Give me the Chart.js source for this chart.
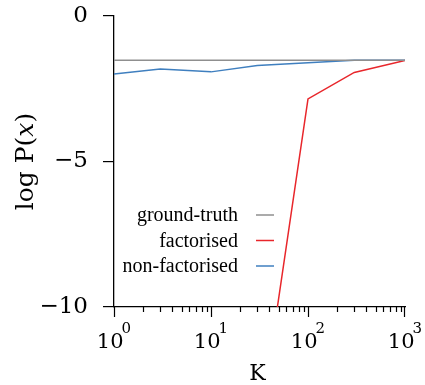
<!DOCTYPE html>
<html>
<head>
<meta charset="utf-8">
<script src="https://cdn.jsdelivr.net/npm/chart.js@4/dist/chart.umd.min.js"></script>
<style>
  body { margin: 0; background: #fff; }
  #wrap { width: 425px; height: 385px; }
</style>
</head>
<body>
<div id="wrap"><canvas id="chart" width="425" height="385"></canvas></div>
<script>
// values
const K = [1, 3, 10, 30, 100, 300, 1000];
const groundTruth = [-1.52, -1.52, -1.52, -1.52, -1.52, -1.52, -1.52];
const factorised = [-60, -45, -30, -14.7, -2.85, -1.94, -1.53];
const nonFactorised = [-1.99, -1.82, -1.92, -1.70, -1.61, -1.52, -1.52];
const seriesNames = ['ground-truth', 'factorised', 'non-factorised'];
const xTickExponents = [0, 1, 2, 3];
const yTicks = [0, -5, -10];

const tickFont = '"DejaVu Serif", serif';
const legendFont = '"Liberation Serif", serif';

function points(vals) {
    return K.map((k, i) => ({ x: k, y: vals[i] }));
}

// draws x ticks + labels, axis titles and the legend
const extras = {
    id: 'extras',
    afterDraw(chart) {
        const ctx = chart.ctx;
        const xs = chart.scales.x;
        const area = chart.chartArea;
        ctx.save();

        // x ticks (major and minor)
        ctx.strokeStyle = '#000';
        ctx.lineWidth = 1.2;
        for (let d = 0; d < 3; d++) {
            for (let m = 1; m <= 9; m++) {
                const px = Math.round(xs.getPixelForValue(m * Math.pow(10, d))) + 0.5;
                const len = m === 1 ? 10 : 5;
                ctx.beginPath();
                ctx.moveTo(px, area.bottom);
                ctx.lineTo(px, area.bottom + len);
                ctx.stroke();
            }
        }
        const last = Math.round(xs.getPixelForValue(1000)) - 0.5;
        ctx.beginPath();
        ctx.moveTo(last, area.bottom);
        ctx.lineTo(last, area.bottom + 10);
        ctx.stroke();

        // x tick labels 10^n
        ctx.fillStyle = '#000';
        ctx.textBaseline = 'alphabetic';
        ctx.textAlign = 'left';
        xTickExponents.forEach(e => {
            const px = xs.getPixelForValue(Math.pow(10, e));
            ctx.font = '21px ' + tickFont;
            const wBase = ctx.measureText('10').width - 2;
            ctx.font = '15px ' + tickFont;
            const wExp = ctx.measureText(String(e)).width;
            const x0 = px - (wBase + wExp) / 2;
            ctx.font = '21px ' + tickFont;
            ctx.fillText('10', x0, area.bottom + 41);
            ctx.font = '15px ' + tickFont;
            ctx.fillText(String(e), x0 + wBase, area.bottom + 26);
        });

        // x title
        ctx.font = '22px ' + tickFont;
        ctx.textAlign = 'center';
        ctx.fillText('K', (area.left + area.right) / 2 - 2, area.bottom + 73);

        // y title: log P(x) with italic x
        ctx.save();
        ctx.translate(33, (area.top + area.bottom) / 2);
        ctx.rotate(-Math.PI / 2);
        ctx.textAlign = 'left';
        const parts = [['log P(', ''], ['x', 'italic '], [')', '']];
        let total = 0;
        parts.forEach(p => { ctx.font = p[1] + '25px ' + tickFont; total += ctx.measureText(p[0]).width; });
        let cx = -total / 2;
        parts.forEach(p => {
            ctx.font = p[1] + '25px ' + tickFont;
            ctx.fillText(p[0], cx, 0);
            cx += ctx.measureText(p[0]).width;
        });
        ctx.restore();

        // legend: text right aligned, sample line to the right
        ctx.font = '20px ' + legendFont;
        ctx.textAlign = 'right';
        chart.data.datasets.forEach((ds, i) => {
            const y = area.top + 199 + i * 25.5;
            const tx = area.left + 124;
            ctx.fillStyle = '#000';
            ctx.fillText(ds.label, tx, y + 6);
            ctx.strokeStyle = ds.borderColor;
            ctx.lineWidth = 1.5;
            ctx.beginPath();
            ctx.moveTo(tx + 18, y);
            ctx.lineTo(tx + 36, y);
            ctx.stroke();
        });
        ctx.restore();
    }
};

new Chart(document.getElementById('chart'), {
    type: 'line',
    data: {
        datasets: [
            { label: seriesNames[0], data: points(groundTruth), borderColor: '#8f8f8f', borderWidth: 1.6 },
            { label: seriesNames[1], data: points(factorised), borderColor: '#e8262b', borderWidth: 1.5 },
            { label: seriesNames[2], data: points(nonFactorised), borderColor: '#3f7fbf', borderWidth: 1.5 }
        ]
    },
    options: {
        responsive: false,
        animation: false,
        layout: { padding: { top: 16, right: 20 } },
        elements: { point: { radius: 0 }, line: { tension: 0 } },
        plugins: { legend: { display: false }, tooltip: { enabled: false } },
        scales: {
            x: {
                type: 'logarithmic',
                min: 1,
                max: 1000,
                ticks: { display: false },
                grid: { display: false },
                border: { display: true, color: '#000', width: 1.3 },
                afterFit(scale) { scale.height = 78; }
            },
            y: {
                min: -10,
                max: 0,
                afterBuildTicks(scale) { scale.ticks = yTicks.map(v => ({ value: v })); },
                ticks: {
                    color: '#000',
                    padding: 15,
                    font: { family: tickFont, size: 23 },
                    callback: v => String(v).replace('-', '\u2212')
                },
                grid: { drawOnChartArea: false, tickLength: 11, color: '#000', lineWidth: 1.2 },
                border: { display: true, color: '#000', width: 1.3 },
                afterFit(scale) {
                    scale.width = 114;
                    scale.paddingTop = 0;
                    scale.paddingBottom = 0;
                }
            }
        }
    },
    plugins: [extras]
});
</script>
</body>
</html>
